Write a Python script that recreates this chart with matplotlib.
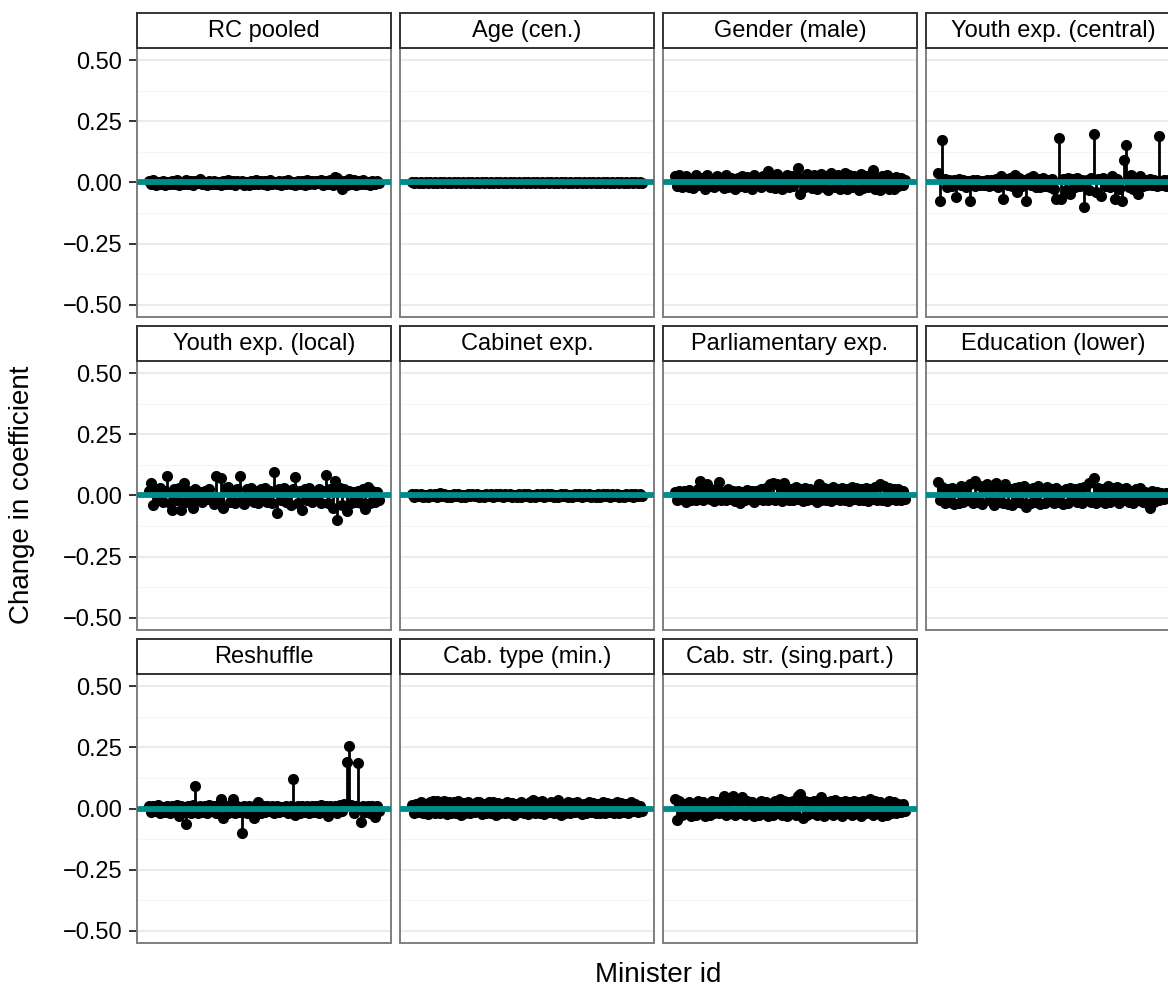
import matplotlib
matplotlib.use("Agg")
import matplotlib.pyplot as plt
import numpy as np

plt.rcParams['font.family'] = ['Liberation Sans', 'DejaVu Sans']

panel_titles = ["RC pooled", "Age (cen.)", "Gender (male)", "Youth exp. (central)",
                "Youth exp. (local)", "Cabinet exp.", "Parliamentary exp.", "Education (lower)",
                "Reshuffle", "Cab. type (min.)", "Cab. str. (sing.part.)"]

minister_id = list(range(1, 101))

rc_pooled = [0.005, -0.008, 0.010, -0.012, 0.004, -0.006, 0.008, -0.010, 0.003, -0.007,
             0.006, -0.005, 0.009, -0.011, 0.004, -0.008, 0.012, -0.006, 0.005, -0.009,
             0.007, -0.004, 0.015, -0.008, 0.003, -0.010, 0.006, -0.007, 0.008, -0.005,
             0.004, -0.012, 0.007, -0.006, 0.009, -0.008, 0.005, -0.010, 0.006, -0.004,
             0.008, -0.009, 0.004, -0.011, 0.007, -0.006, 0.010, -0.008, 0.005, -0.007,
             0.006, -0.010, 0.009, -0.005, 0.004, -0.008, 0.007, -0.012, 0.005, -0.006,
             0.010, -0.007, 0.004, -0.009, 0.008, -0.005, 0.006, -0.010, 0.009, -0.006,
             0.005, -0.008, 0.007, -0.004, 0.010, -0.011, 0.006, -0.007, 0.012, -0.009,
             0.022, 0.018, -0.010, -0.025, 0.008, -0.012, 0.015, -0.006, 0.010, -0.009,
             0.006, -0.008, 0.012, -0.005, 0.004, -0.010, 0.007, -0.006, 0.005, -0.004]

age = [0.002, -0.002, 0.003, -0.001, 0.002, -0.003, 0.001, -0.002, 0.002, -0.001,
       0.003, -0.002, 0.001, -0.003, 0.002, -0.001, 0.002, -0.002, 0.003, -0.001,
       0.001, -0.002, 0.002, -0.003, 0.001, -0.001, 0.003, -0.002, 0.002, -0.001,
       0.002, -0.003, 0.001, -0.002, 0.003, -0.001, 0.002, -0.002, 0.001, -0.003,
       0.003, -0.001, 0.002, -0.002, 0.001, -0.003, 0.002, -0.001, 0.003, -0.002,
       0.001, -0.002, 0.003, -0.001, 0.002, -0.003, 0.001, -0.002, 0.002, -0.001,
       0.002, -0.001, 0.003, -0.002, 0.001, -0.002, 0.002, -0.003, 0.001, -0.001,
       0.003, -0.002, 0.002, -0.001, 0.001, -0.003, 0.002, -0.002, 0.003, -0.001,
       0.001, -0.002, 0.002, -0.001, 0.003, -0.002, 0.001, -0.003, 0.002, -0.001,
       0.002, -0.002, 0.001, -0.003, 0.003, -0.001, 0.002, -0.002, 0.001, -0.002]

gender = [0.025, -0.015, 0.030, -0.020, 0.020, 0.028, -0.018, 0.015, -0.022, 0.030,
          -0.012, 0.020, 0.018, -0.025, 0.032, -0.015, 0.010, -0.020, 0.025, -0.010,
          0.015, -0.022, 0.030, -0.018, 0.020, 0.012, -0.025, 0.018, -0.015, 0.028,
          -0.020, 0.022, 0.015, -0.028, 0.030, -0.012, 0.018, -0.020, 0.025, 0.010,
          0.048, -0.018, 0.028, -0.022, 0.035, 0.020, -0.025, 0.015, 0.032, -0.020,
          0.025, -0.015, 0.030, 0.060, -0.045, 0.020, -0.018, 0.035, 0.028, -0.022,
          0.030, -0.025, 0.018, 0.035, -0.020, 0.025, -0.030, 0.040, 0.022, -0.018,
          0.030, -0.025, 0.020, 0.038, -0.028, 0.032, -0.020, 0.025, 0.018, -0.030,
          0.035, -0.022, 0.028, -0.018, 0.030, 0.050, -0.025, 0.020, -0.030, 0.025,
          -0.020, 0.030, -0.025, 0.018, -0.028, 0.022, -0.015, 0.020, -0.012, 0.010]

youth_central = [0.040, -0.074, 0.172, 0.015, -0.020, 0.012, -0.015, 0.010, -0.060, 0.015,
                 -0.012, 0.010, -0.018, 0.008, -0.074, 0.012, -0.015, 0.010, -0.012, 0.008,
                 -0.010, 0.012, -0.015, 0.010, -0.012, 0.015, -0.020, 0.025, -0.066, 0.015,
                 -0.012, 0.020, -0.015, 0.030, -0.040, 0.020, -0.015, 0.012, -0.074, 0.018,
                 -0.012, 0.025, -0.020, 0.015, -0.018, 0.020, -0.015, 0.010, -0.020, 0.015,
                 -0.025, -0.066, 0.180, -0.066, 0.015, -0.030, 0.020, -0.045, 0.015, -0.020,
                 0.018, -0.015, 0.010, -0.098, 0.012, -0.030, 0.020, 0.197, -0.040, 0.015,
                 -0.057, 0.020, -0.015, 0.012, -0.020, 0.025, -0.066, 0.015, -0.025, -0.074,
                 0.090, 0.152, -0.020, 0.030, -0.025, 0.015, -0.045, 0.025, -0.015, 0.010,
                 -0.012, 0.015, -0.010, 0.012, -0.015, 0.190, -0.012, 0.010, -0.015, 0.012]

youth_local = [0.020, 0.050, -0.040, 0.025, -0.020, 0.030, -0.025, 0.020, 0.080, -0.030,
               -0.060, 0.025, -0.020, 0.030, -0.060, 0.050, -0.025, 0.020, -0.030, -0.050,
               0.025, -0.020, 0.015, -0.025, 0.020, -0.015, 0.025, -0.020, -0.035, 0.080,
               -0.020, 0.070, -0.050, 0.030, 0.035, -0.025, 0.020, -0.030, 0.025, 0.080,
               -0.020, -0.035, 0.025, -0.020, 0.030, -0.025, 0.020, -0.030, 0.025, -0.020,
               0.030, -0.025, 0.020, -0.030, 0.095, -0.070, 0.025, -0.020, 0.030, -0.025,
               0.020, -0.040, 0.025, 0.075, -0.030, 0.020, -0.060, 0.025, -0.020, 0.030,
               -0.025, 0.015, -0.020, 0.025, -0.030, 0.020, 0.085, -0.030, 0.025, -0.050,
               0.060, -0.100, 0.030, -0.040, 0.025, -0.065, 0.020, -0.030, 0.015, -0.025,
               0.020, -0.030, 0.025, -0.055, 0.035, -0.030, 0.020, -0.025, 0.015, -0.020]

cabinet = [0.006, -0.005, 0.008, -0.004, 0.005, -0.007, 0.004, -0.006, 0.007, -0.003,
           0.005, -0.006, 0.010, -0.004, 0.006, -0.005, 0.004, -0.007, 0.005, -0.004,
           0.007, -0.005, 0.004, -0.006, 0.008, -0.004, 0.005, -0.003, 0.006, -0.005,
           0.004, -0.008, 0.006, -0.004, 0.005, -0.006, 0.007, -0.004, 0.005, -0.005,
           0.006, -0.004, 0.008, -0.005, 0.004, -0.006, 0.005, -0.007, 0.006, -0.004,
           0.005, -0.005, 0.004, -0.006, 0.007, -0.004, 0.006, -0.005, 0.005, -0.004,
           0.008, -0.006, 0.004, -0.005, 0.006, -0.004, 0.005, -0.007, 0.004, -0.005,
           0.006, -0.004, 0.007, -0.006, 0.005, -0.004, 0.006, -0.005, 0.004, -0.006,
           0.005, -0.005, 0.007, -0.004, 0.006, -0.006, 0.005, -0.004, 0.008, -0.005,
           0.004, -0.006, 0.006, -0.004, 0.005, -0.005, 0.007, -0.004, 0.005, -0.003]

parliament = [0.015, -0.020, 0.020, -0.015, 0.018, -0.025, 0.022, -0.018, 0.015, -0.020,
              0.025, 0.060, -0.020, 0.018, 0.048, -0.015, 0.020, -0.022, 0.030, 0.055,
              -0.018, 0.015, -0.020, 0.025, -0.015, 0.018, -0.022, 0.020, -0.030, 0.015,
              -0.018, 0.022, -0.015, 0.020, -0.025, 0.018, -0.015, 0.025, -0.020, 0.030,
              -0.018, 0.045, 0.050, -0.020, 0.048, 0.035, -0.022, 0.050, 0.030, -0.018,
              0.025, -0.020, 0.035, -0.015, 0.028, -0.022, 0.030, -0.018, 0.025, -0.015,
              0.020, -0.025, 0.045, -0.018, 0.030, -0.020, 0.025, -0.022, 0.035, -0.015,
              0.028, -0.020, 0.030, -0.018, 0.025, -0.022, 0.035, -0.015, 0.030, -0.020,
              0.025, -0.018, 0.030, -0.022, 0.028, -0.015, 0.035, -0.020, 0.045, -0.018,
              0.040, -0.022, 0.030, -0.015, 0.025, -0.020, 0.028, -0.018, 0.020, -0.015]

education = [0.055, -0.020, 0.035, -0.030, 0.025, -0.025, 0.030, -0.035, 0.020, -0.030,
             0.040, -0.025, 0.035, -0.020, 0.045, -0.030, 0.060, -0.025, 0.040, -0.035,
             0.030, 0.045, -0.020, 0.035, -0.040, 0.050, -0.025, 0.030, -0.030, 0.045,
             -0.035, 0.025, -0.040, 0.030, -0.025, 0.035, -0.030, 0.040, -0.045, 0.025,
             -0.030, 0.030, -0.025, 0.040, -0.035, 0.020, -0.030, 0.035, -0.020, 0.025,
             -0.030, 0.030, -0.025, 0.020, -0.035, 0.025, -0.030, 0.030, -0.020, 0.025,
             -0.025, 0.030, -0.030, 0.035, -0.020, 0.050, -0.025, 0.070, -0.030, 0.030,
             -0.020, 0.025, -0.030, 0.040, -0.025, 0.030, -0.020, 0.035, -0.030, 0.025,
             -0.020, 0.030, -0.025, 0.020, -0.030, 0.025, -0.020, 0.030, -0.025, 0.015,
             -0.030, -0.050, 0.020, -0.025, 0.015, -0.020, 0.010, -0.015, 0.012, -0.010]

reshuffle = [0.012, -0.015, 0.010, -0.012, 0.015, -0.018, 0.008, -0.015, 0.012, -0.020,
             0.010, -0.012, 0.015, -0.030, 0.010, -0.015, -0.065, 0.012, -0.018, 0.015,
             0.090, -0.020, 0.012, -0.015, 0.010, -0.018, 0.015, -0.012, 0.010, -0.020,
             0.015, 0.040, -0.040, 0.012, -0.018, 0.015, 0.040, -0.020, 0.012, -0.015,
             -0.100, 0.010, -0.018, 0.012, -0.015, -0.040, 0.015, 0.025, -0.018, 0.010,
             -0.015, 0.012, -0.012, 0.010, -0.020, 0.012, -0.015, 0.008, -0.012, 0.010,
             -0.018, 0.012, 0.120, -0.025, 0.010, -0.018, 0.012, -0.015, 0.010, -0.020,
             0.012, -0.015, 0.010, -0.018, 0.015, -0.012, 0.010, -0.030, 0.012, -0.015,
             0.010, -0.018, 0.015, -0.012, 0.020, 0.190, 0.255, 0.015, -0.018, 0.012,
             0.185, -0.057, 0.012, -0.015, 0.010, -0.018, 0.012, -0.035, 0.010, -0.012]

cab_type = [0.015, -0.020, 0.020, -0.015, 0.025, -0.018, 0.020, -0.022, 0.025, 0.030,
            -0.018, 0.030, -0.020, 0.025, 0.030, -0.022, 0.028, -0.018, 0.025, -0.020,
            0.030, -0.025, 0.022, -0.018, 0.025, -0.020, 0.020, -0.015, 0.025, 0.028,
            -0.022, 0.020, -0.018, 0.025, -0.020, 0.028, -0.025, 0.022, -0.018, 0.020,
            -0.020, 0.025, -0.018, 0.022, -0.025, 0.020, -0.015, 0.025, -0.020, 0.018,
            -0.022, 0.028, 0.035, -0.020, 0.025, -0.018, 0.030, -0.022, 0.020, -0.015,
            0.025, -0.020, 0.022, 0.035, -0.025, 0.020, -0.018, 0.025, -0.020, 0.022,
            -0.015, 0.025, 0.020, -0.022, 0.018, -0.020, 0.025, -0.015, 0.022, -0.018,
            0.020, -0.020, 0.025, -0.018, 0.022, -0.015, 0.020, -0.020, 0.025, -0.018,
            0.022, -0.015, 0.020, -0.018, 0.025, -0.012, 0.018, -0.015, 0.012, -0.010]

cab_str = [0.040, -0.045, 0.030, -0.025, 0.020, -0.020, 0.025, -0.030, 0.020, -0.025,
           0.030, -0.020, 0.025, -0.030, 0.020, -0.025, 0.030, -0.020, 0.025, -0.018,
           0.022, 0.050, -0.025, 0.030, -0.020, 0.050, -0.025, 0.030, -0.020, 0.045,
           -0.025, 0.030, -0.020, 0.025, -0.030, 0.020, -0.025, 0.030, -0.020, 0.025,
           -0.030, 0.020, -0.025, 0.030, -0.020, 0.040, -0.025, 0.030, -0.030, 0.025,
           -0.020, 0.030, -0.025, 0.050, 0.060, -0.040, 0.030, -0.025, 0.025, -0.020,
           0.030, -0.025, 0.020, 0.045, -0.030, 0.025, -0.020, 0.030, -0.025, 0.035,
           -0.020, 0.025, -0.030, 0.030, -0.020, 0.025, -0.025, 0.030, -0.020, 0.025,
           -0.030, 0.030, -0.020, 0.025, 0.040, -0.025, 0.030, -0.020, 0.025, -0.030,
           0.020, -0.025, 0.030, -0.020, 0.025, -0.018, 0.020, -0.015, 0.018, -0.012]

panel_values = [rc_pooled, age, gender, youth_central, youth_local, cabinet,
                parliament, education, reshuffle, cab_type, cab_str]

y_ticks = [-0.5, -0.25, 0.0, 0.25, 0.5]
y_tick_labels = ["\u22120.50", "\u22120.25", "0.00", "0.25", "0.50"]

W, H = 1168, 996
fig = plt.figure(figsize=(W / 100, H / 100), dpi=100)

# facet layout in pixels
left0, col_step, panel_w = 137, 263, 254
top0, row_step, panel_h, strip_h = 48, 313, 269, 35

def frac_box(x, y_top, w, h):
    return [x / W, 1 - (y_top + h) / H, w / W, h / H]

x = np.array(minister_id)
for k, (title, vals) in enumerate(zip(panel_titles, panel_values)):
    r, c = divmod(k, 4)
    px = left0 + c * col_step
    py = top0 + r * row_step
    ax = fig.add_axes(frac_box(px, py, panel_w, panel_h))
    v = np.array(vals)

    for yv in [-0.375, -0.125, 0.125, 0.375]:
        ax.axhline(yv, color='#F5F5F5', lw=0.8, zorder=0)
    for yv in y_ticks:
        ax.axhline(yv, color='#EBEBEB', lw=1.4, zorder=0)

    ax.vlines(x, 0, v, color='black', lw=2.0, zorder=2)
    ax.plot(x, v, 'o', color='black', ms=8, mec='none', zorder=3)
    ax.axhline(0, color='#008B8B', lw=4.2, zorder=4)

    ax.set_xlim(1 - 4.95, 100 + 4.95)
    ax.set_ylim(-0.549, 0.549)
    ax.set_xticks([])
    for s in ax.spines.values():
        s.set_color('#7F7F7F')
        s.set_linewidth(1.4)
    if c == 0:
        ax.set_yticks(y_ticks)
        ax.set_yticklabels(y_tick_labels)
        ax.tick_params(axis='y', length=5.5, width=1.4, color='#333333',
                       labelsize=17, pad=5, labelcolor='black')
    else:
        ax.set_yticks([])

    sax = fig.add_axes(frac_box(px, py - strip_h, panel_w, strip_h))
    sax.set_xticks([])
    sax.set_yticks([])
    sax.set_facecolor('white')
    for s in sax.spines.values():
        s.set_color('#333333')
        s.set_linewidth(1.4)
    sax.text(0.5, 0.48, title, ha='center', va='center', fontsize=17,
             color='black', transform=sax.transAxes)

fig.text(658 / W, 1 - 975 / H, "Minister id", ha='center', va='center', fontsize=20)
fig.text(22 / W, 1 - 495 / H, "Change in coefficient", ha='center', va='center',
         rotation=90, fontsize=20)

fig.savefig("out.png", dpi=100)
